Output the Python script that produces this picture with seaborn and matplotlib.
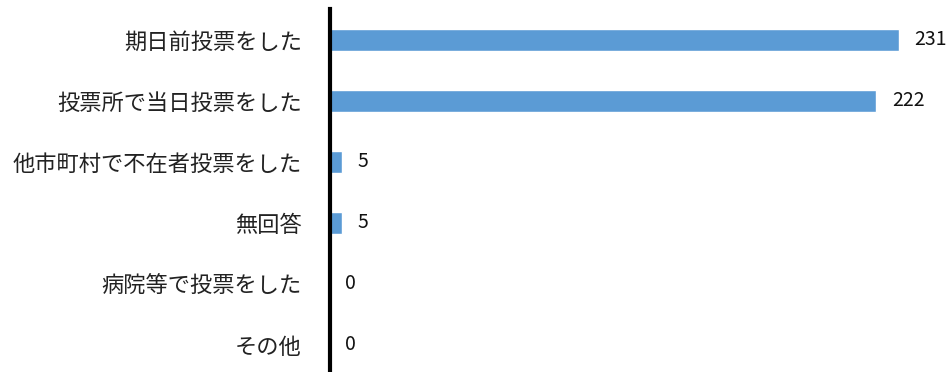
import matplotlib
matplotlib.use('Agg')
import matplotlib.pyplot as plt
import seaborn as sns
import pandas as pd

# data
categories = ['期日前投票をした', '投票所で当日投票をした', '他市町村で不在者投票をした',
              '無回答', '病院等で投票をした', 'その他']
counts = [231, 222, 5, 5, 0, 0]

sns.set_theme(style='white')
plt.rcParams['font.family'] = ['Noto Sans CJK JP', 'DejaVu Sans']

df = pd.DataFrame({'category': categories, 'count': counts})

fig = plt.figure(figsize=(9.5, 3.72), dpi=100)
ax = fig.add_axes([0.347, -0.0094, 0.643, 0.984])

sns.barplot(data=df, x='count', y='category', color='#5B9BD5', width=0.37,
            saturation=1, ax=ax, orient='h')

for c in ax.containers:
    ax.bar_label(c, padding=11, fontsize=14, color='#111111')

ax.set_xlim(0, 248)
ax.set_ylim(5.5, -0.5)
ax.set_xlabel('')
ax.set_ylabel('')
ax.set_xticks([])
ax.tick_params(axis='y', length=0, pad=20, labelsize=16, labelcolor='#222222')
for side in ['top', 'right', 'bottom']:
    ax.spines[side].set_visible(False)
ax.spines['left'].set_color('black')
ax.spines['left'].set_linewidth(3)

fig.savefig('out.png', dpi=100)
